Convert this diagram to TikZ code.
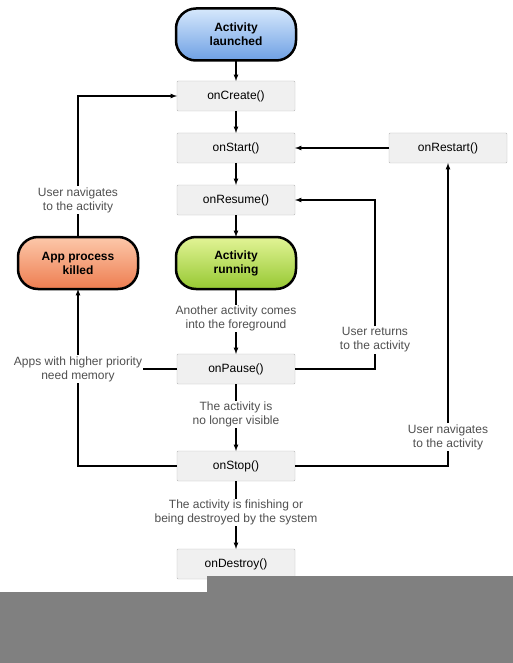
\documentclass[tikz,border=0pt]{standalone}
\usepackage{fontspec}
\setmainfont{Liberation Sans}
\usetikzlibrary{positioning,calc}

\definecolor{boxfill}{RGB}{240,240,240}
\definecolor{boxline}{RGB}{185,185,185}
\definecolor{notetext}{RGB}{80,80,80}
\definecolor{bluetop}{RGB}{214,232,252}
\definecolor{bluebot}{RGB}{110,160,228}
\definecolor{greentop}{RGB}{226,244,150}
\definecolor{greenbot}{RGB}{150,200,50}
\definecolor{orangetop}{RGB}{252,200,170}
\definecolor{orangebot}{RGB}{238,125,80}

\begin{document}
\begin{tikzpicture}[
                node distance=22pt,
                >=latex,
                every node/.append style={font=\fontsize{12pt}{14pt}\selectfont,align=center},
                cb/.style={draw=boxline,fill=boxfill,minimum width=118pt,minimum height=30pt,
                    inner sep=0pt,outer sep=0pt,rounded corners=1pt},
                stage/.style={draw=black,line width=2.5pt,rounded corners=20pt,minimum width=120pt,
                    minimum height=52pt,outer sep=0pt,font=\bfseries\fontsize{12pt}{14pt}\selectfont},
                note/.style={fill=white,text=notetext,inner sep=1pt},
                flow/.style={line width=1.2pt}
            ]
                \useasboundingbox (0,0) rectangle (513pt,-663pt);
                % main column
                \node[stage,top color=bluetop,bottom color=bluebot] (launched) at (236pt,-34.5pt) {Activity\\launched};
                \node[cb] (onCreate)  [below=20.5pt of launched] {onCreate()};
                \node[cb] (onStart)   [below=of onCreate] {onStart()};
                \node[cb] (onResume)  [below=of onStart] {onResume()};
                \node[stage,top color=greentop,bottom color=greenbot] (running) [below=of onResume] {Activity\\running};
                \node[cb] (onPause)   [below=65pt of running] {onPause()};
                \node[cb] (onStop)    [below=67pt of onPause] {onStop()};
                \node[cb] (onDestroy) [below=68pt of onStop] {onDestroy()};
                % side nodes
                \node[stage,top color=orangetop,bottom color=orangebot] (killed) [left=38pt of running] {App process\\killed};
                \node[cb] (onRestart) [right=94pt of onStart] {onRestart()};
                % labels on the side lines
                \node[note] (back) at (killed |- onResume) {User navigates\\to the activity};
                \node[note] (mem)  at (killed |- onPause) {Apps with higher priority\\need memory};
                \node[note] (ret)  at ($(onPause.east)+(80pt,29pt)$) {User returns\\to the activity};
                \node[note] (nav)  at ($(onRestart |- onStop)+(0,29pt)$) {User navigates\\to the activity};

                \draw[flow,->] (launched) -- (onCreate);
                \draw[flow,->] (onCreate) -- (onStart);
                \draw[flow,->] (onStart) -- (onResume);
                \draw[flow,->] (onResume) -- (running);
                \draw[flow,->] (running) -- node[note,pos=0.45] {Another activity comes\\into the foreground} (onPause);
                \draw[flow,->] (onPause) -- node[note,pos=0.45] {The activity is\\no longer visible} (onStop);
                \draw[flow,->] (onStop) -- node[note,pos=0.46] {The activity is finishing or\\being destroyed by the system} (onDestroy);
                \draw[flow,->] (onRestart) -- (onStart);
                \draw[flow] (onPause.east) -| (ret);
                \draw[flow,->] (ret) |- (onResume.east);
                \draw[flow] (onStop.east) -| (nav);
                \draw[flow,->] (nav) -- (onRestart);
                \draw[flow] (onStop.west) -| (mem);
                \draw[flow] (onPause.west) -- (mem);
                \draw[flow,->] (mem) -- (killed);
                \draw[flow] (killed) -- (back);
                \draw[flow,->] (back) |- (onCreate.west);

                % grey band at the foot
                \fill[gray] (207pt,-576pt) rectangle (513pt,-663pt);
                \fill[gray] (0,-592pt) rectangle (513pt,-663pt);
            \end{tikzpicture}
\end{document}
